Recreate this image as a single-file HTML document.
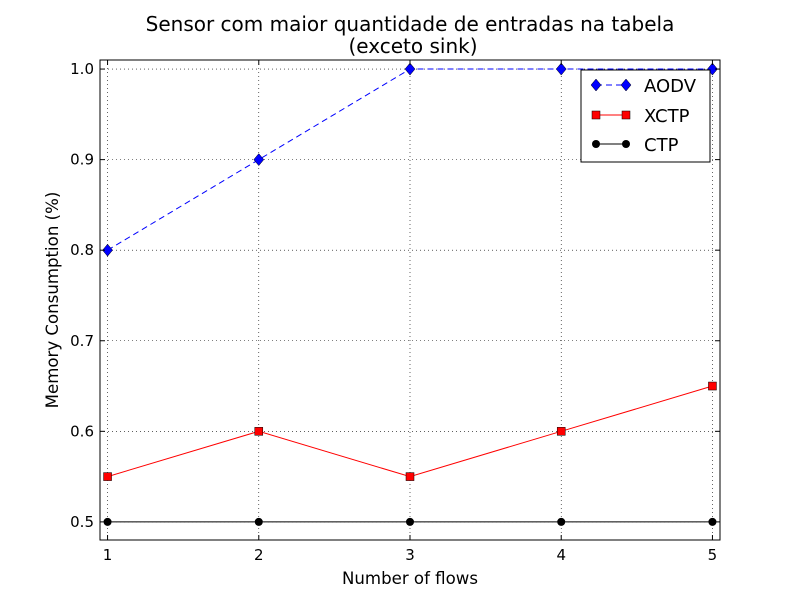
<!DOCTYPE html>
<html><head><meta charset="utf-8"><style>
body{margin:0;background:#fff;}
svg text{font-family:"DejaVu Sans","Liberation Sans",sans-serif;}
</style></head><body>
<svg id="chart" width="800" height="600" xmlns="http://www.w3.org/2000/svg">
<rect width="800" height="600" fill="#fff"/>
<text x="410" y="31" font-size="20" text-anchor="middle">Sensor com maior quantidade de entradas na tabela</text>
<text x="413" y="53" font-size="20" text-anchor="middle">(exceto sink)</text>
<g id="grid"></g><g id="series"></g><g id="ticks"></g>
<rect x="100" y="60" width="620" height="480" fill="none" stroke="#000" stroke-width="1"/>
<text x="410" y="584" font-size="16.6" text-anchor="middle">Number of flows</text>
<text transform="translate(58,300) rotate(-90)" font-size="16.6" text-anchor="middle">Memory Consumption (%)</text>
<g>
<rect x="581" y="70" width="129" height="92" fill="#fff" stroke="#000"/>
<g><line x1="596" y1="85" x2="626" y2="85" stroke="#0000ff" stroke-dasharray="6,4"/><path d="M596 79 L601 85 L596 91 L591 85Z M626 79 L631 85 L626 91 L621 85Z" fill="#0000ff" stroke="#000" stroke-width="0.5"/><text x="644" y="92" font-size="18">AODV</text></g>
<g><line x1="596" y1="115" x2="626" y2="115" stroke="#ff0000"/><rect x="592" y="111" width="8" height="8" fill="#ff0000" stroke="#000" stroke-width="0.5"/><rect x="622" y="111" width="8" height="8" fill="#ff0000" stroke="#000" stroke-width="0.5"/><text x="644" y="122" font-size="18">XCTP</text></g>
<g><line x1="596" y1="144" x2="626" y2="144" stroke="#000"/><circle cx="596" cy="144" r="4"/><circle cx="626" cy="144" r="4"/><text x="644" y="151" font-size="18">CTP</text></g>
</g>
</svg>
<script>
const categories=[1,2,3,4,5];
const aodv=[0.8,0.9,1.0,1.0,1.0];
const xctp=[0.55,0.6,0.55,0.6,0.65];
const ctp=[0.5,0.5,0.5,0.5,0.5];
const yTicks=[0.5,0.6,0.7,0.8,0.9,1.0];
const yTickLabels=["0.5","0.6","0.7","0.8","0.9","1.0"];
const NS="http://www.w3.org/2000/svg";
const X0=100,X1=720,Y0=540,Y1=60,xmin=0.95,xmax=5.05,ymin=0.48,ymax=1.01;
const sx=v=>X0+(v-xmin)/(xmax-xmin)*(X1-X0);
const sy=v=>Y0-(v-ymin)/(ymax-ymin)*(Y0-Y1);
function mk(tag,attrs,parent){const e=document.createElementNS(NS,tag);for(const k in attrs)e.setAttribute(k,attrs[k]);document.getElementById(parent).appendChild(e);return e;}
categories.forEach(c=>{
  const g=mk('line',{x1:sx(c),x2:sx(c),y1:Y1,y2:Y0,stroke:'#000','stroke-dasharray':'1,3','stroke-width':0.6},'grid');
  
  
  mk('line',{x1:sx(c),x2:sx(c),y1:Y0,y2:Y0-5,stroke:'#000'},'ticks');
  mk('line',{x1:sx(c),x2:sx(c),y1:Y1,y2:Y1+5,stroke:'#000'},'ticks');
  const t=mk('text',{x:sx(c),y:Y0+20,'font-size':15,'text-anchor':'middle'},'ticks');t.textContent=c;
  
  
});
yTicks.forEach((v,i)=>{
  const g=mk('line',{x1:X0,x2:X1,y1:sy(v),y2:sy(v),stroke:'#000','stroke-dasharray':'1,3','stroke-width':0.6},'grid');
  
  
  mk('line',{x1:X0,x2:X0+5,y1:sy(v),y2:sy(v),stroke:'#000'},'ticks');
  mk('line',{x1:X1,x2:X1-5,y1:sy(v),y2:sy(v),stroke:'#000'},'ticks');
  const t=mk('text',{x:X0-6,y:sy(v)+5,'font-size':15,'text-anchor':'end'},'ticks');t.textContent=yTickLabels[i];
  
  
});
function series(vals,color,dash,marker,name){
  const pts=vals.map((v,i)=>sx(categories[i])+','+sy(v)).join(' ');
  const l=mk('polyline',{points:pts,fill:'none',stroke:color,'stroke-dasharray':dash},'series');
  
  
  vals.forEach((v,i)=>{
    const x=sx(categories[i]),y=sy(v);let m;
    if(marker==='d')m=mk('path',{d:`M${x} ${y-6}L${x+5} ${y}L${x} ${y+6}L${x-5} ${y}Z`,fill:color,stroke:'#000','stroke-width':0.5},'series');
    else if(marker==='s')m=mk('rect',{x:x-4,y:y-4,width:8,height:8,fill:color,stroke:'#000','stroke-width':0.5},'series');
    else m=mk('circle',{cx:x,cy:y,r:4,fill:color},'series');
    
    
  });
}
series(ctp,'#000','','o','ctp');
series(xctp,'#ff0000','','s','xctp');
series(aodv,'#0000ff','6,4','d','aodv');
</script>
</body></html>
